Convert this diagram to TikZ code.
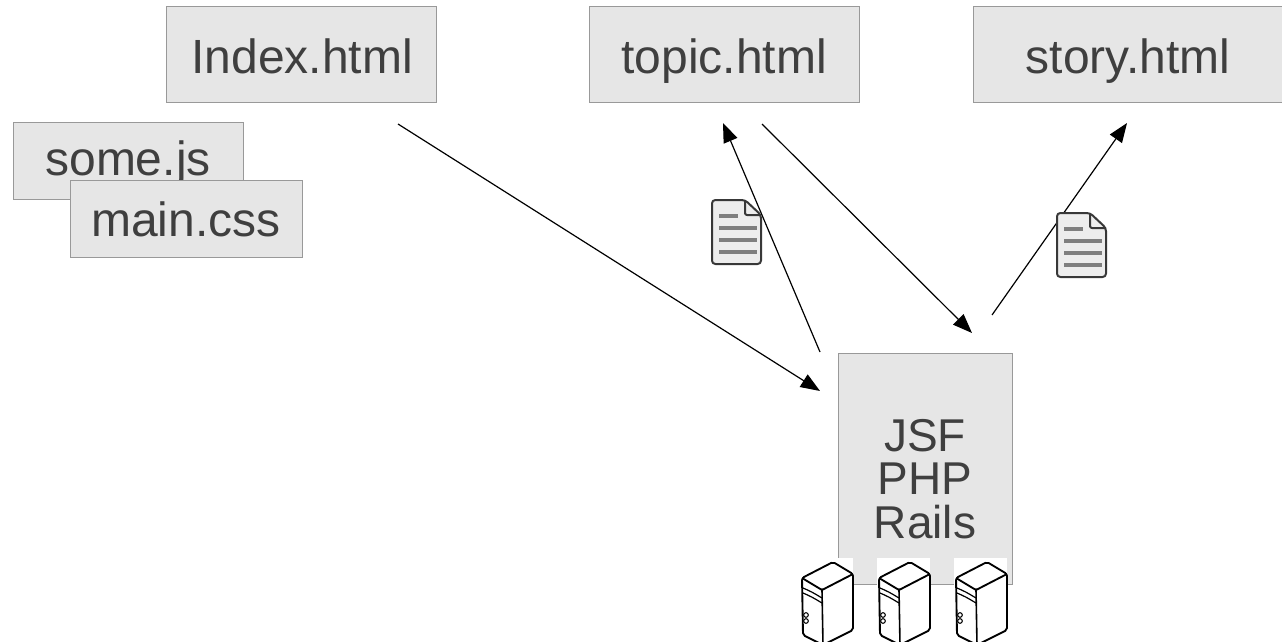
\documentclass[tikz,border=0pt]{standalone}
\usepackage{fontspec}
\setmainfont{Liberation Sans}
\usepackage{tikz}
\usetikzlibrary{arrows.meta}

\definecolor{boxfill}{HTML}{E6E6E6}
\definecolor{boxline}{HTML}{999999}
\definecolor{txtgray}{HTML}{3F3F3F}
\definecolor{docfill}{HTML}{EDEDED}
\definecolor{docline}{HTML}{383838}
\definecolor{docbar}{HTML}{7F7F7F}

\tikzset{
  pagebox/.style={draw=boxline, fill=boxfill, line width=0.75pt},
  lbl/.style={text=txtgray, inner sep=0pt, anchor=base, font=\fontsize{36}{36}\selectfont},
  flow/.style={draw=black, line width=0.9pt, -{Triangle[length=14.5pt,width=11pt]}},
  pics/docicon/.style={code={
    \draw[docline, fill=docfill, line width=1.5pt, rounded corners=2.5pt, line join=round] (0,0) -- (33,0) -- (49,15) -- (49,64) -- (0,64) -- cycle;
    \draw[docline, line width=1.5pt, rounded corners=1.5pt, line join=round] (33,0) -- (33,15) -- (49,15);
    \draw[docbar, line width=3.2pt] (7,16) -- (26,16);
    \draw[docbar, line width=3.2pt] (7,28) -- (45,28);
    \draw[docbar, line width=3.2pt] (7,40) -- (45,40);
    \draw[docbar, line width=3.2pt] (7,52) -- (45,52);
  }},
  pics/server/.style={code={
    \fill[white] (-22,-32) rectangle (31,56);
    \draw[black, line width=1.4pt, fill=white, rounded corners=1.5pt, line join=round] (-20,-12) -- (11,-28) -- (31,-16) -- (31,40) -- (1,55) -- (-19,45) -- cycle;
    \draw[black, line width=1.4pt, rounded corners=1pt, line join=round] (-20,-12) -- (0,0) -- (31,-16);
    \draw[black, line width=1.2pt] (0,0) -- (1,55);
    \draw[black, line width=0.9pt] (-19,-2) .. controls (-10,2) .. (0,8);
    \draw[black, line width=0.9pt] (-19,3) .. controls (-10,7) .. (0,13);
    \draw[black, line width=0.8pt] (-16,25) circle (2.3);
    \draw[black, line width=0.8pt] (-16,31) circle (2.3);
  }},
}

\begin{document}
\begin{tikzpicture}[x=0.75pt,y=0.75pt,yscale=-1,xscale=1]
\useasboundingbox (0,0) rectangle (1282,642);

%Shape: Rectangle [Index.html]
\draw [pagebox] (166,7) rectangle (436,103);
%Shape: Rectangle [topic.html]
\draw [pagebox] (589,7) rectangle (859,103);
%Shape: Rectangle [story.html]
\draw [pagebox] (973,7) rectangle (1284,103);
%Shape: Rectangle [some.js]
\draw [pagebox] (13,123) rectangle (243,199);
% Text Node
\node [lbl] (somejs) at (128,175) {some.js};
%Shape: Rectangle [main.css]
\draw [pagebox] (70,180) rectangle (302,257);
%Shape: Rectangle [server side]
\draw [pagebox] (838,353) rectangle (1012,584);

% Text Node
\node [lbl] (index) at (302,74) {Index.html};
% Text Node
\node [lbl] (topic) at (724,74) {topic.html};
% Text Node
\node [lbl] (story) at (1128,74) {story.html};
% Text Node
\node [lbl] (maincss) at (186,236) {main.css};
% Text Node
\node [lbl, anchor=center, align=center, font=\fontsize{34.5}{32.5}\selectfont] (app) at (925,479) {JSF\\PHP\\Rails};

%Servers
\pic [transform shape] at (822,590) {server};
\pic [transform shape] at (899,590) {server};
\pic [transform shape] at (976,590) {server};

%Arrow ends
\coordinate (idxOut) at (398,124);
\coordinate (appInL) at (820,391);
\coordinate (appOutL) at (820,352);
\coordinate (topicIn) at (723,123);
\coordinate (topicOut) at (762,124);
\coordinate (appInR) at (972,333);
\coordinate (appOutR) at (992,315);
\coordinate (storyIn) at (1127,123);

%Straight Lines
\draw [flow] (idxOut) -- (appInL);
%Straight Lines
\draw [flow] (appOutL) -- (topicIn);
%Straight Lines
\draw [flow] (topicOut) -- (appInR);
%Straight Lines
\draw [flow] (appOutR) -- (storyIn);

%Documents
\pic [transform shape] at (712,200) {docicon};
\pic [transform shape] at (1057,213) {docicon};

\end{tikzpicture}
\end{document}
